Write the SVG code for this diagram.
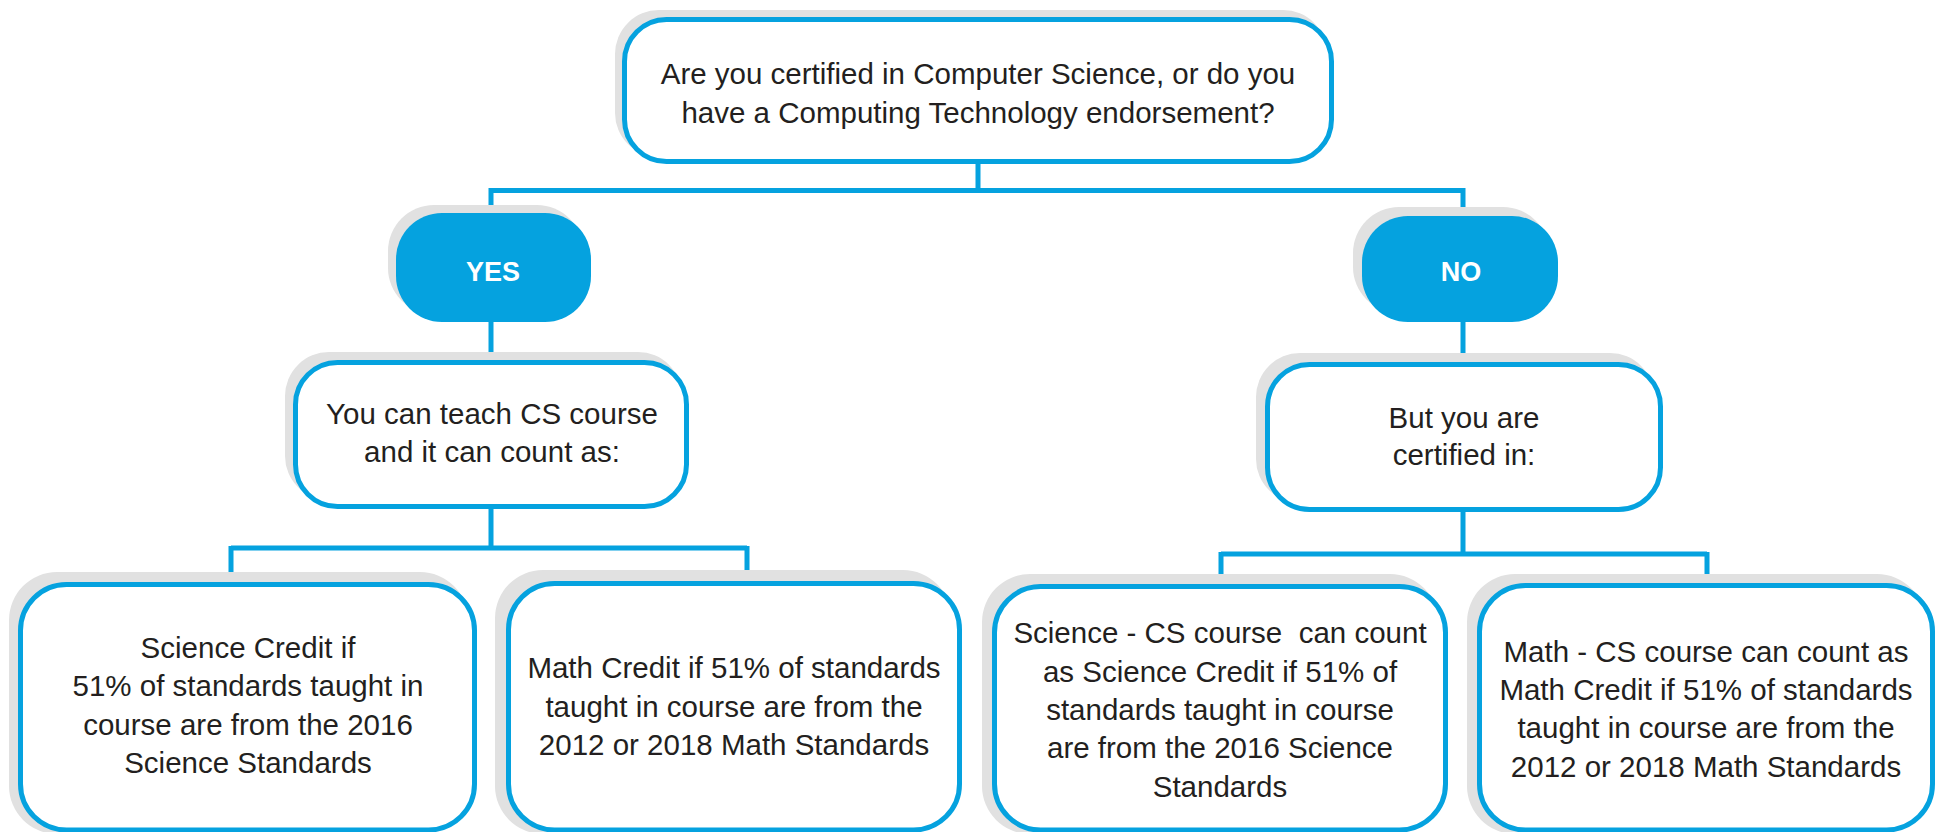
<svg xmlns="http://www.w3.org/2000/svg" width="1946" height="832" viewBox="0 0 1946 832">
<style>
.shadow{fill:#e1e1e1}
.box{fill:#ffffff;stroke:#05a2df;stroke-width:5}
.pill{fill:#05a2df}
.conn{fill:none;stroke:#05a2df;stroke-width:5;stroke-linejoin:miter}
.t{font-family:"Liberation Sans",Arial,sans-serif;font-size:29.5px;fill:#231f20;text-anchor:middle}
.b{font-family:"Liberation Sans",Arial,sans-serif;font-size:27px;font-weight:bold;fill:#ffffff;text-anchor:middle}
</style>
<rect width="1946" height="832" fill="#ffffff"/>
<g id="connectors">
<path class="conn" d="M978 162 V190.5 M491 190.5 H1463 M491 188 V215 M1463 188 V218"/>
<path class="conn" d="M491 320 V362"/>
<path class="conn" d="M1463 320 V364"/>
<path class="conn" d="M491 505 V548 M231 548 H747 M231 546 V584 M747 546 V583"/>
<path class="conn" d="M1463 508 V554 M1221 554 H1707 M1221 552 V586 M1707 552 V585"/>
</g>
<g id="n-question">
<rect class="shadow" x="615" y="10" width="712" height="147" rx="44"/>
<rect class="box" x="624.5" y="19.5" width="707" height="142" rx="42"/>
<text class="t" x="978" y="84">Are you certified in Computer Science, or do you</text>
<text class="t" x="978" y="123">have a Computing Technology endorsement?</text>
</g>
<g id="n-yes">
<rect class="shadow" x="388" y="205" width="195" height="109" rx="46"/>
<rect class="pill" x="396" y="213" width="195" height="109" rx="46"/>
<text class="b" x="493" y="281">YES</text>
</g>
<g id="n-no">
<rect class="shadow" x="1353" y="207" width="196" height="106" rx="46"/>
<rect class="pill" x="1362" y="216" width="196" height="106" rx="46"/>
<text class="b" x="1461" y="281">NO</text>
</g>
<g id="n-yes-detail">
<rect class="shadow" x="285" y="352" width="397" height="148" rx="44"/>
<rect class="box" x="295.5" y="362.5" width="391" height="144" rx="42"/>
<text class="t" x="492" y="424">You can teach CS course</text>
<text class="t" x="492" y="462">and it can count as:</text>
</g>
<g id="n-no-detail">
<rect class="shadow" x="1256" y="353" width="398" height="150" rx="44"/>
<rect class="box" x="1267.5" y="364.5" width="393" height="145" rx="42"/>
<text class="t" x="1464" y="428">But you are</text>
<text class="t" x="1464" y="465">certified in:</text>
</g>
<g id="n-science-credit">
<rect class="shadow" x="9" y="572" width="459" height="262" rx="48"/>
<rect class="box" x="20.5" y="584.5" width="454" height="245.5" rx="46"/>
<text class="t" x="248" y="658">Science Credit if</text>
<text class="t" x="248" y="696">51% of standards taught in</text>
<text class="t" x="248" y="735">course are from the 2016</text>
<text class="t" x="248" y="773">Science Standards</text>
</g>
<g id="n-math-credit">
<rect class="shadow" x="495" y="570" width="456" height="264" rx="48"/>
<rect class="box" x="508.5" y="583.5" width="451" height="246.5" rx="46"/>
<text class="t" x="734" y="678">Math Credit if 51% of standards</text>
<text class="t" x="734" y="717">taught in course are from the</text>
<text class="t" x="734" y="755">2012 or 2018 Math Standards</text>
</g>
<g id="n-science-cert">
<rect class="shadow" x="982" y="574" width="456" height="260" rx="48"/>
<rect class="box" x="994.5" y="586.5" width="451" height="243.5" rx="46"/>
<text class="t" x="1220" y="643" xml:space="preserve">Science - CS course  can count</text>
<text class="t" x="1220" y="682">as Science Credit if 51% of</text>
<text class="t" x="1220" y="720">standards taught in course</text>
<text class="t" x="1220" y="758">are from the 2016 Science</text>
<text class="t" x="1220" y="797">Standards</text>
</g>
<g id="n-math-cert">
<rect class="shadow" x="1467" y="574" width="458" height="260" rx="48"/>
<rect class="box" x="1479.5" y="585.5" width="453" height="244.5" rx="46"/>
<text class="t" x="1706" y="662">Math - CS course can count as</text>
<text class="t" x="1706" y="700">Math Credit if 51% of standards</text>
<text class="t" x="1706" y="738">taught in course are from the</text>
<text class="t" x="1706" y="777">2012 or 2018 Math Standards</text>
</g>
</svg>
